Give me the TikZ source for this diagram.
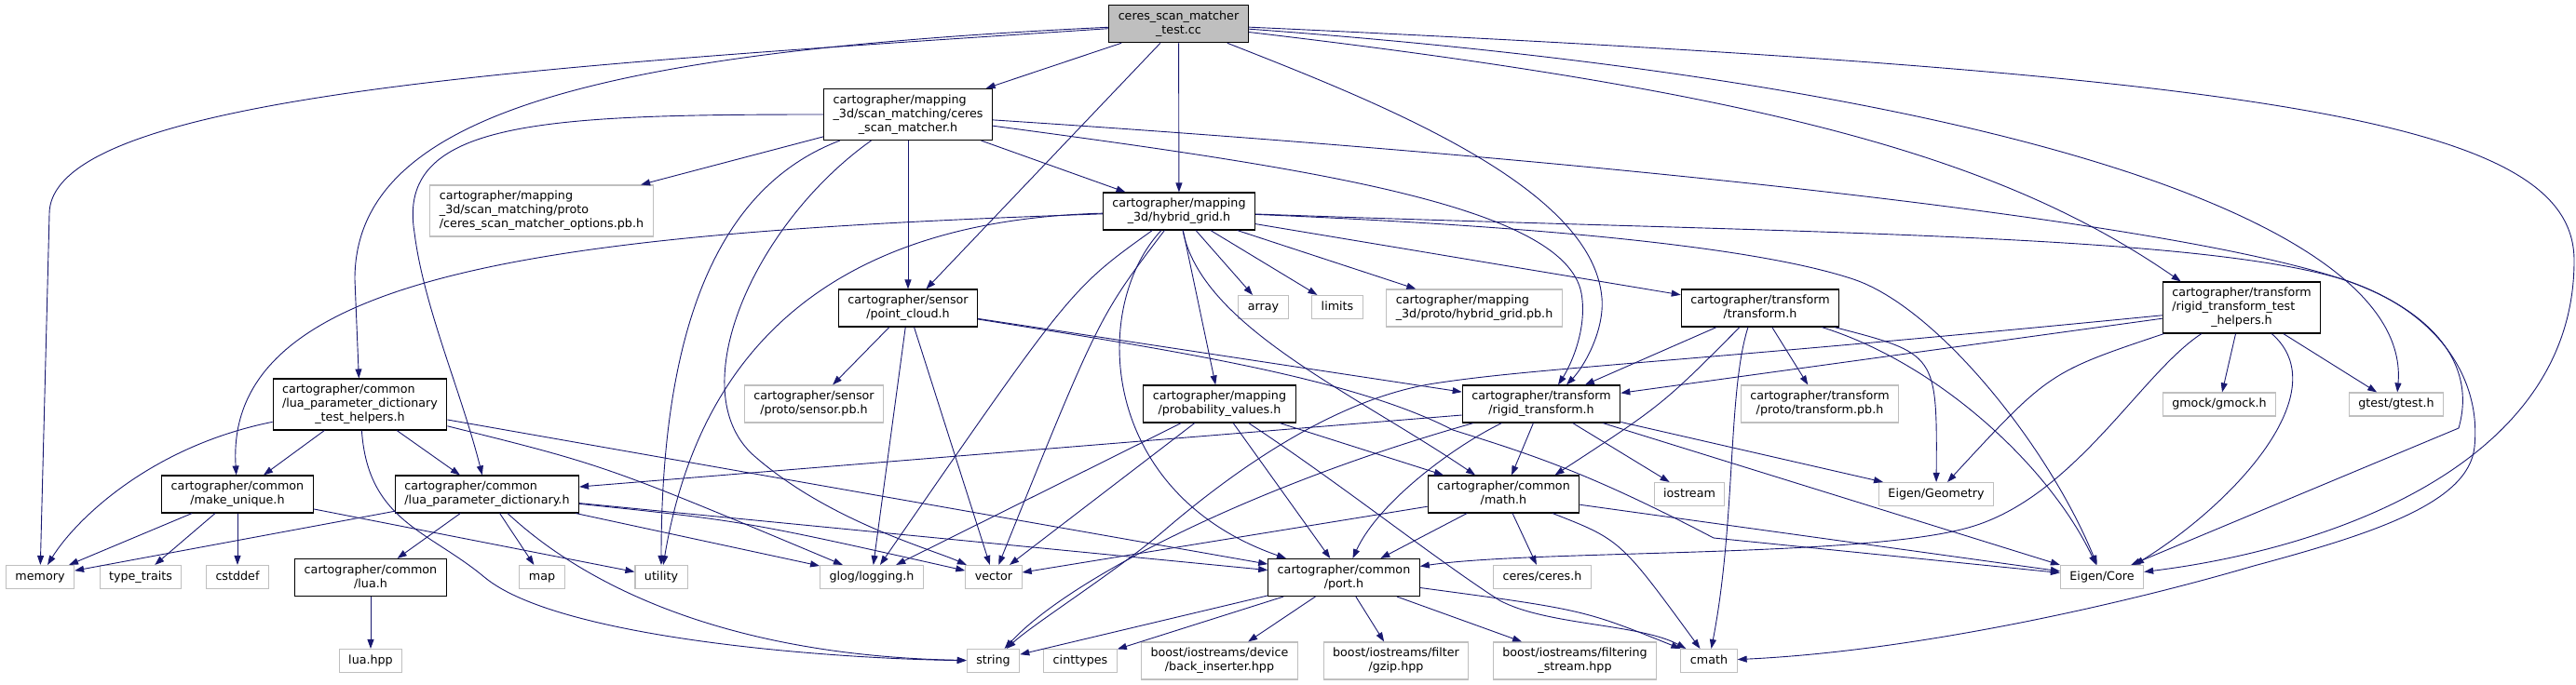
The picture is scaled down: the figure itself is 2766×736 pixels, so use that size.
\documentclass[tikz,border=0pt]{standalone}
\usepackage{fontspec}
\setmainfont{DejaVu Sans}
\usetikzlibrary{arrows.meta}
\definecolor{edgeblue}{HTML}{191970}
\definecolor{extgray}{HTML}{BFBFBF}
\newcommand\lbl[1]{\begin{tabular}{@{}l@{}}#1\end{tabular}}
\newcommand\lastl[1]{\multicolumn{1}{@{}c@{}}{#1}}

\begin{document}
\begin{tikzpicture}[x=1pt,y=-1pt,
  box/.style={draw=black,fill=white,line width=1.1pt,inner xsep=10pt,inner ysep=5pt,font=\fontsize{12.7}{15}\selectfont},
  ext/.style={box,draw=extgray},
  edge/.style={edgeblue,line width=0.9pt,-{Triangle[length=10pt,width=7pt]}}]
\useasboundingbox (0,0) rectangle (2766,736);

% headers, top to bottom
\node[box,fill=extgray] (root) at (1265.5,25.7) {\lbl{ceres\_scan\_matcher\\\lastl{\_test.cc}}};
\node[box] (csm)    at (975,123)     {\lbl{cartographer/mapping\\\_3d/scan\_matching/ceres\\\lastl{\_scan\_matcher.h}}};
\node[ext] (proto)  at (581.5,226.5) {\lbl{cartographer/mapping\\\_3d/scan\_matching/proto\\\lastl{/ceres\_scan\_matcher\_options.pb.h}}};
\node[box] (hgrid)  at (1266,227)    {\lbl{cartographer/mapping\\\lastl{\_3d/hybrid\_grid.h}}};
\node[box] (pcloud) at (975,331)     {\lbl{cartographer/sensor\\\lastl{/point\_cloud.h}}};
\node[ext] (arr)    at (1356.5,330)  {\lbl{array}};
\node[ext] (lim)    at (1436,330)    {\lbl{limits}};
\node[ext] (hgpb)   at (1583,331)    {\lbl{cartographer/mapping\\\lastl{\_3d/proto/hybrid\_grid.pb.h}}};
\node[box] (tf)     at (1890,331)    {\lbl{cartographer/transform\\\lastl{/transform.h}}};
\node[box] (rtth)   at (2407,330.5)  {\lbl{cartographer/transform\\/rigid\_transform\_test\\\lastl{\_helpers.h}}};
\node[box] (lth)    at (386.5,434.5) {\lbl{cartographer/common\\/lua\_parameter\_dictionary\\\lastl{\_test\_helpers.h}}};
\node[ext] (spb)    at (874,434)     {\lbl{cartographer/sensor\\\lastl{/proto/sensor.pb.h}}};
\node[box] (prob)   at (1309.5,434)  {\lbl{cartographer/mapping\\\lastl{/probability\_values.h}}};
\node[box] (rigid)  at (1655,434)    {\lbl{cartographer/transform\\\lastl{/rigid\_transform.h}}};
\node[ext] (tfpb)   at (1954,434)    {\lbl{cartographer/transform\\\lastl{/proto/transform.pb.h}}};
\node[ext] (gmock)  at (2383,434.5)  {\lbl{gmock/gmock.h}};
\node[ext] (gtest)  at (2573,434.5)  {\lbl{gtest/gtest.h}};
\node[box] (mkuniq) at (255,531)     {\lbl{cartographer/common\\\lastl{/make\_unique.h}}};
\node[box] (lpd)    at (523,531)     {\lbl{cartographer/common\\\lastl{/lua\_parameter\_dictionary.h}}};
\node[box] (math)   at (1614.5,531)  {\lbl{cartographer/common\\\lastl{/math.h}}};
\node[ext] (iostr)  at (1814,531)    {\lbl{iostream}};
\node[ext] (egeom)  at (2079,531)    {\lbl{Eigen/Geometry}};
\node[ext] (memory) at (43,620)      {\lbl{memory}};
\node[ext] (ttraits) at (151,620)    {\lbl{type\_traits}};
\node[ext] (cstddef) at (255,620)    {\lbl{cstddef}};
\node[box] (luah)   at (398,620.5)   {\lbl{cartographer/common\\\lastl{/lua.h}}};
\node[ext] (map)    at (582,620)     {\lbl{map}};
\node[ext] (utility) at (710,620)    {\lbl{utility}};
\node[ext] (glog)   at (936,620)     {\lbl{glog/logging.h}};
\node[ext] (vector) at (1067,620)    {\lbl{vector}};
\node[box] (port)   at (1443,620.5)  {\lbl{cartographer/common\\\lastl{/port.h}}};
\node[ext] (ceres)  at (1656,620)    {\lbl{ceres/ceres.h}};
\node[ext] (ecore)  at (2257,620)    {\lbl{Eigen/Core}};
\node[ext] (luahpp) at (398,710)     {\lbl{lua.hpp}};
\node[ext] (string) at (1066.5,710)  {\lbl{string}};
\node[ext] (cinttypes) at (1160,710) {\lbl{cinttypes}};
\node[ext] (backins) at (1309.5,710) {\lbl{boost/iostreams/device\\\lastl{/back\_inserter.hpp}}};
\node[ext] (gzip)   at (1499,710)    {\lbl{boost/iostreams/filter\\\lastl{/gzip.hpp}}};
\node[ext] (filtstr) at (1691,710)   {\lbl{boost/iostreams/filtering\\\lastl{\_stream.hpp}}};
\node[ext] (cmath)  at (1835,710)    {\lbl{cmath}};

% test file
\draw[edge] (root) .. controls (600,70) and (53,100) .. (53,230) -- (memory);
\draw[edge] (root) .. controls (650,55) and (381,120) .. (381,300) -- (lth);
\draw[edge] (root) -- (csm);
\draw[edge] (root) -- (pcloud);
\draw[edge] (root) -- (hgrid);
\draw[edge] (root) .. controls (1480,110) and (1710,200) .. (1720,320) .. controls (1723,356) and (1700,395) .. ([xshift=27pt]rigid.north);
\draw[edge] (root) .. controls (1900,100) and (2150,170) .. ([xshift=20pt]rtth.north west);
\draw[edge] (root) .. controls (2150,90) and (2590,240) .. (gtest);
\draw[edge] (root) .. controls (2450,80) and (2764,130) .. (2764,280) .. controls (2764,500) and (2500,590) .. (ecore);

% ceres_scan_matcher.h
\draw[edge] (csm) .. controls (580,123) and (425,130) .. (445,250) .. controls (455,330) and (495,420) .. (lpd);
\draw[edge] (csm) -- (proto);
\draw[edge] (csm) .. controls (800,190) and (710,300) .. (utility);
\draw[edge] (csm) .. controls (810,240) and (730,420) .. (810,490) .. controls (890,560) and (1000,590) .. (vector);
\draw[edge] (csm) -- (pcloud);
\draw[edge] (csm) -- (hgrid);
\draw[edge] (csm) .. controls (1400,180) and (1680,220) .. (1698,315) .. controls (1705,355) and (1685,395) .. ([xshift=18pt]rigid.north);
\draw[edge] (csm) .. controls (1700,170) and (2320,235) .. (2515,300) .. controls (2610,332) and (2660,390) .. (2640,460) -- (ecore);

% hybrid_grid.h
\draw[edge] (hgrid) .. controls (600,250) and (240,290) .. (mkuniq);
\draw[edge] (hgrid) .. controls (960,235) and (760,320) .. (utility);
\draw[edge] (hgrid) .. controls (1150,310) .. (glog);
\draw[edge] (hgrid) .. controls (1180,340) .. (vector);
\draw[edge] (hgrid) .. controls (1170,330) and (1180,530) .. ([xshift=-62pt]port.north);
\draw[edge] (hgrid) -- (prob);
\draw[edge] (hgrid) .. controls (1290,350) and (1450,420) .. (math);
\draw[edge] (hgrid) -- (arr);
\draw[edge] (hgrid) -- (lim);
\draw[edge] (hgrid) -- (hgpb);
\draw[edge] (hgrid) -- (tf);
\draw[edge] (hgrid) .. controls (1700,245) and (1900,270) .. (1990,300) .. controls (2080,330) and (2200,480) .. (ecore);
\draw[edge] (hgrid) .. controls (1900,250) and (2350,250) .. (2515,300) .. controls (2610,330) and (2665,400) .. (2657,480) .. controls (2651,540) and (2550,573) .. (2420,608) .. controls (2270,652) and (2050,700) .. (cmath);

% point_cloud.h
\draw[edge] (pcloud) -- (spb);
\draw[edge] (pcloud) -- (glog);
\draw[edge] (pcloud) -- (vector);
\draw[edge] (pcloud) -- (rigid);
\draw[edge] (pcloud) .. controls (1250,375) and (1450,405) .. (1560,462) .. controls (1650,490) and (1710,510) .. (1840,578) -- (ecore);

% transform.h
\draw[edge] (tf) -- (rigid);
\draw[edge] ([xshift=-22pt]tf.south) .. controls (1785,435) .. ([xshift=55pt]math.north);
\draw[edge] ([xshift=-13pt]tf.south) .. controls (1855,420) and (1864,560) .. (cmath);
\draw[edge] (tf) -- (tfpb);
\draw[edge] (tf) .. controls (2080,380) .. (egeom);
\draw[edge] (tf) .. controls (2080,390) and (2200,500) .. (ecore);

% rigid_transform_test_helpers.h
\draw[edge] (rtth) .. controls (1800,390) and (1650,395) .. (1540,412) .. controls (1430,429) and (1320,510) .. (1250,570) .. controls (1200,613) and (1110,670) .. (string);
\draw[edge] (rtth) -- (rigid);
\draw[edge] (rtth) .. controls (2200,400) .. (egeom);
\draw[edge] (rtth) .. controls (2300,400) and (2230,530) .. (2120,565) .. controls (2010,600) and (1650,590) .. (port);
\draw[edge] (rtth) -- (gmock);
\draw[edge] (rtth) .. controls (2510,420) and (2400,540) .. ([xshift=35pt]ecore.north);
\draw[edge] (rtth) -- (gtest);

% lua_parameter_dictionary_test_helpers.h
\draw[edge] (lth) .. controls (160,480) and (80,560) .. (memory);
\draw[edge] (lth) -- (mkuniq);
\draw[edge] (lth) -- (lpd);
\draw[edge] (lth) -- (port);
\draw[edge] (lth) .. controls (650,500) .. (glog);
\draw[edge] (lth) .. controls (395,560) and (460,570) .. (520,620) .. controls (600,687) and (900,708) .. (string);

% lua_parameter_dictionary.h
\draw[edge] (lpd) -- (memory);
\draw[edge] (lpd) -- (luah);
\draw[edge] (lpd) -- (map);
\draw[edge] (lpd) .. controls (640,640) and (800,705) .. (string);
\draw[edge] (lpd) -- (glog);
\draw[edge] (lpd) .. controls (800,560) .. (vector);
\draw[edge] (lpd) -- (port);

% make_unique.h, lua.h
\draw[edge] (mkuniq) -- (memory);
\draw[edge] (mkuniq) -- (ttraits);
\draw[edge] (mkuniq) -- (cstddef);
\draw[edge] (mkuniq) -- (utility);
\draw[edge] (luah) -- (luahpp);

% probability_values.h
\draw[edge] (prob) -- (glog);
\draw[edge] (prob) -- (vector);
\draw[edge] (prob) -- (port);
\draw[edge] (prob) .. controls (1440,520) and (1540,600) .. (1610,645) .. controls (1660,672) and (1760,670) .. ([xshift=6pt]cmath.north west);
\draw[edge] (prob) -- (math);

% rigid_transform.h
\draw[edge] ([yshift=-12pt]rigid.west) -- (lpd);
\draw[edge] (rigid) .. controls (1350,520) and (1150,620) .. (string);
\draw[edge] (rigid) .. controls (1560,480) and (1480,540) .. (port);
\draw[edge] (rigid) -- (math);
\draw[edge] (rigid) -- (iostr);
\draw[edge] (rigid) -- (egeom);
\draw[edge] (rigid) -- (ecore.north west);

% math.h
\draw[edge] (math) -- (vector);
\draw[edge] (math) -- (port);
\draw[edge] (math) -- (ceres);
\draw[edge] (math) .. controls (1740,580) .. (cmath);
\draw[edge] (math) -- (ecore);

% port.h
\draw[edge] (port) -- (string);
\draw[edge] (port) -- (cinttypes);
\draw[edge] (port) -- (backins);
\draw[edge] (port) -- (gzip);
\draw[edge] (port) -- (filtstr);
\draw[edge] (port) .. controls (1700,655) .. (cmath.north west);

\end{tikzpicture}
\end{document}
